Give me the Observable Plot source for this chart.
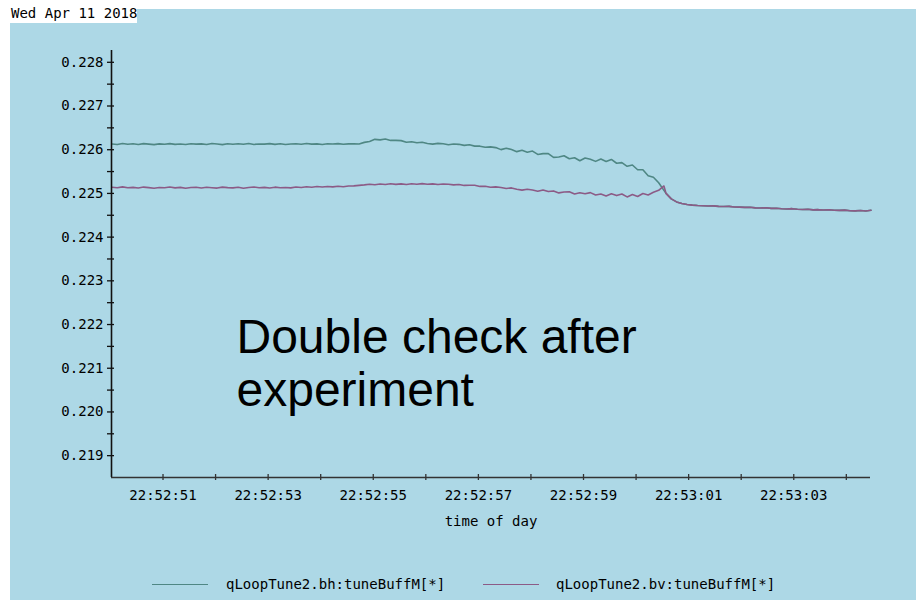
<!DOCTYPE html>
<html><head><meta charset="utf-8">
<script src="https://cdn.jsdelivr.net/npm/d3@7"></script>
<script src="https://cdn.jsdelivr.net/npm/@observablehq/plot@0.6"></script>
<style>
html,body{margin:0;padding:0;background:#fff;width:916px;height:600px;overflow:hidden;}
#panel{position:absolute;left:10px;top:9px;width:906px;height:591px;background:#add8e6;}
#date{position:absolute;left:0;top:0;width:137px;height:23px;background:#fff;font:14px "DejaVu Sans Mono",monospace;line-height:16px;box-sizing:border-box;padding:5px 0 0 11px;color:#000;z-index:2;white-space:nowrap;}
#chart{position:absolute;left:0;top:0;}
#legend{position:absolute;left:0;top:540px;width:906px;height:51px;font:14px "DejaVu Sans Mono",monospace;color:#000;}
.sw{position:absolute;height:0;border-top:1px solid;top:35px;}
.lt{position:absolute;top:27px;line-height:16px;white-space:nowrap;}
</style></head><body>
<div id="date"></div>
<div id="panel"><div id="chart"></div><div id="legend"></div></div>
<script>
// ---- data ----
const dateLabel = "Wed Apr 11 2018";
const seriesNames = ["qLoopTune2.bh:tuneBuffM[*]", "qLoopTune2.bv:tuneBuffM[*]"];
const seriesColors = ["#4f8784", "#8c5b86"];
const xLabel = "time of day";
const annotation = "Double check after\nexperiment";
// seconds after 22:52:00 (Apr 11 2018)
const xDomainSeconds = [50.02, 64.46];
const xTickSeconds = [51, 52, 53, 54, 55, 56, 57, 58, 59, 60, 61, 62, 63, 64];
const xLabelSeconds = [51, 53, 55, 57, 59, 61, 63];
const yDomain = [0.2185, 0.22827];
const yMajor = [0.219, 0.220, 0.221, 0.222, 0.223, 0.224, 0.225, 0.226, 0.227, 0.228];
const yMinor = [0.2195, 0.2205, 0.2215, 0.2225, 0.2235, 0.2245, 0.2255, 0.2265, 0.2275];
// sampling grid of the separate part (before the two tunes merge)
const preStart = 50.03, preStep = 0.1;
// sampling grid of the common part (after merge)
const tailStart = 60.57, tailStep = 0.1;

const bhValues = [
0.22613,0.226118,0.226142,0.226126,0.226135,0.226121,0.226139,0.226128,0.226116,0.226133,
0.226125,0.22614,0.226122,0.226131,0.226119,0.226137,0.226127,0.226134,0.22612,0.226141,
0.226129,0.226117,0.226136,0.226124,0.226138,0.226126,0.226143,0.226121,0.226132,0.226128,
0.22614,0.226123,0.226135,0.226119,0.226131,0.226138,0.226125,0.226142,0.226127,0.226133,
0.226121,0.226136,0.226129,0.22614,0.226124,0.226134,0.226138,0.226131,
0.226168,0.226189,0.226237,0.226225,0.226244,0.226213,0.226214,0.226208,0.226172,0.226181,
0.226158,0.22617,0.226143,0.226128,0.226145,0.226135,0.226113,0.226132,0.226123,0.226099,
0.226112,0.226082,0.226081,0.226055,0.226064,
0.226048,0.226002,0.226035,0.226003,0.225956,0.225986,0.225943,0.225969,0.225892,0.22591,
0.22591,0.225825,0.225833,0.225862,0.225792,0.225817,0.225748,0.22581,0.225781,0.225733,
0.225786,0.225729,0.225777,0.22569,0.225705,0.22562,0.22565,0.225541,0.22554,0.225405,
0.22537,0.225245,0.22507
];
const bvValues = [
0.225142,0.225128,0.22515,0.225131,0.225139,0.225124,0.225145,0.225133,0.22512,0.225137,
0.225129,0.225147,0.225126,0.225138,0.225118,0.225134,0.225142,0.225125,0.22514,0.22513,
0.225122,0.225144,0.225133,0.225127,0.225141,0.225119,0.225136,0.225146,0.225128,0.225139,
0.225124,0.225143,0.225131,0.225137,0.225126,
0.225148,0.225136,0.225152,0.225141,0.225157,0.225146,0.22516,0.225149,0.225163,0.225152,0.225168,
0.225172,0.225185,0.225196,0.22521,0.225199,0.225215,0.225204,0.22522,0.225206,0.225218,
0.225203,0.225221,0.225208,0.225224,0.22521,0.225219,0.225203,0.225214,
0.22521,0.225195,0.225204,0.225183,0.225186,0.225186,0.22516,0.225165,0.22514,0.22515,
0.225136,0.225114,0.225126,0.225094,0.225075,0.225094,0.225078,0.225048,0.225078,0.225042,
0.225057,0.225012,0.225032,0.225036,0.224985,0.225016,0.224992,0.225018,0.224964,0.224986,
0.224942,0.224992,0.22495,0.224988,0.22492,0.224974,0.224928,0.224997,0.224965,0.225025,
0.22507,0.22517
];
const mergedValues = [
0.225,0.224874,0.224806,0.224771,0.224748,0.224732,0.224722,0.224718,0.224711,0.224714,
0.224704,0.224699,0.224703,0.22469,0.224686,0.22468,0.224684,0.22467,0.224666,0.224672,
0.224657,0.22466,0.22465,0.224645,0.224651,0.224636,0.224632,0.224637,0.224624,0.224628,
0.22462,0.224625,0.224614,0.224612,0.224617,0.224605,0.224601,0.224609,0.224598,0.224614
];

// ---- build ----
const base = Date.UTC(2018, 3, 11, 22, 52, 0);
const toDate = s => new Date(base + Math.round(s * 1000));
const rows = [];
[bhValues, bvValues].forEach((vals, k) => {
  vals.forEach((v, i) => rows.push({series: seriesNames[k], t: toDate(preStart + preStep * i), v}));
  mergedValues.forEach((v, j) => rows.push({series: seriesNames[k], t: toDate(tailStart + tailStep * j), v}));
});

const W = 906, H = 540, mL = 101, mR = 46, mT = 41, mB = 72;
const fw = W - mL - mR, fh = H - mT - mB;
const xDomain = xDomainSeconds.map(toDate);
const fmtT = d3.utcFormat("%H:%M:%S");

const chart = Plot.plot({
  width: W, height: H,
  marginLeft: mL, marginRight: mR, marginTop: mT, marginBottom: mB,
  style: {background: "transparent", fontFamily: "DejaVu Sans Mono", fontSize: "14px", color: "#000"},
  x: {type: "utc", domain: xDomain},
  y: {domain: yDomain},
  color: {domain: seriesNames, range: seriesColors},
  marks: [
    Plot.line(rows, {x: "t", y: "v", z: "series", stroke: "series", strokeWidth: 1.6}),
    Plot.ruleX([xDomain[0]], {stroke: "#111", strokeWidth: 1.6}),
    Plot.ruleY([yDomain[0]], {stroke: "#333", strokeWidth: 1.5}),
    Plot.tickY(yMajor.concat(yMinor), {y: d => d, stroke: "#111", strokeWidth: 1.3, insetLeft: -4, insetRight: fw - 3}),
    Plot.tickX(xTickSeconds.map(toDate), {x: d => d, stroke: "#333", strokeWidth: 1.3, insetTop: fh - 3, insetBottom: -3}),
    Plot.axisY(yMajor, {tickSize: 0, tickPadding: 8, tickFormat: d3.format(".3f"), label: null}),
    Plot.axisX(xLabelSeconds.map(toDate), {tickSize: 0, tickPadding: 13, tickFormat: fmtT, label: null}),
    Plot.text([xLabel], {frameAnchor: "bottom", text: d => d, dy: 44, lineAnchor: "middle", fontSize: 14}),
    Plot.text([annotation], {frameAnchor: "top-left", text: d => d, dx: 125, dy: 265, lineAnchor: "top", textAnchor: "start",
      fontSize: 48, fontFamily: "Liberation Sans", lineHeight: 1.1, fill: "#000"})
  ]
});
document.getElementById("chart").appendChild(chart);
document.getElementById("date").textContent = dateLabel;

const legend = document.getElementById("legend");
const swX = [142, 473], txtX = [216, 546];
seriesNames.forEach((name, k) => {
  const sw = document.createElement("div");
  sw.className = "sw";
  sw.style.left = swX[k] + "px";
  sw.style.width = "56px";
  sw.style.borderTopColor = seriesColors[k];
  legend.appendChild(sw);
  const t = document.createElement("div");
  t.className = "lt";
  t.style.left = txtX[k] + "px";
  t.textContent = name;
  legend.appendChild(t);
});
</script></body></html>
